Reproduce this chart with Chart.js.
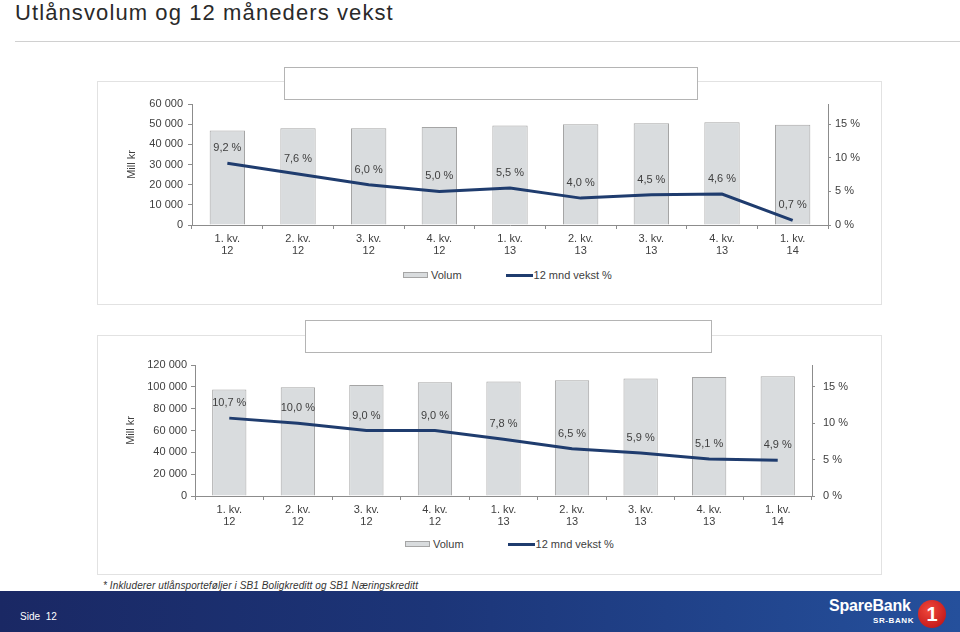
<!DOCTYPE html>
<html>
<head>
<meta charset="utf-8">
<script src="https://cdn.jsdelivr.net/npm/chart.js@4/dist/chart.umd.min.js"></script>
<style>
  body { margin: 0; width: 960px; height: 632px; position: relative; overflow: hidden; background: #fff;
         font-family: "Liberation Sans", Arial, sans-serif; color: #333; }
  .title { position: absolute; left: 15px; top: 0; font-size: 22px; letter-spacing: 1.1px; color: #2a2a2a; white-space: nowrap; }
  .rule { position: absolute; left: 15px; right: 0; top: 41px; height: 1px; background: #d0d0d0; }
  .panel { position: absolute; left: 97px; width: 783px; border: 1px solid #e2e2e2; background: #fff; }
  .tag { position: absolute; border: 1px solid #b4b4b4; background: #fff; }
  .wrap { position: absolute; left: 97px; }
  .legend { position: absolute; display: flex; align-items: center; font-size: 11px; color: #404040; white-space: nowrap; }
  .legend .box { width: 23px; height: 4px; border: 1px solid #a5a5a5; background: #d9dcde; margin-right: 3px; }
  .legend .line { width: 27px; height: 3px; background: #1f3c6e; margin-left: 44px; margin-right: 1px; }
  .note { position: absolute; left: 103px; top: 580px; font-size: 10px; font-style: italic; letter-spacing: 0.1px; color: #333; white-space: nowrap; }
  .footer { position: absolute; left: 0; top: 591px; width: 960px; height: 41px;
            background: linear-gradient(to right, #1a2864 0%, #1c3578 45%, #25509c 100%); }
  .side { position: absolute; left: 20px; top: 611px; font-size: 10px; color: #fff; word-spacing: 3px; }
  .brand { position: absolute; left: 829px; top: 597px; font-size: 16px; font-weight: bold; color: #fff; letter-spacing: -0.2px; }
  .brand2 { position: absolute; left: 873px; top: 616px; font-size: 8px; font-weight: bold; color: #fff; letter-spacing: 0.6px; }
  .one { position: absolute; left: 918px; top: 600px; width: 28px; height: 28px; border-radius: 50%;
         background: radial-gradient(circle at 40% 35%, #f0483a, #c81e1e 70%, #a01515);
         color: #fff; font-weight: bold; font-size: 20px; line-height: 28px; text-align: center; }
</style>
</head>
<body>
<div class="title">Utlånsvolum og 12 måneders vekst</div>
<div class="rule"></div>

<div class="panel" style="top:81px;height:222px"></div>
<div class="tag" style="left:284px;top:67px;width:412px;height:31px"></div>
<div class="wrap" style="top:90px"><canvas id="c1" width="781" height="168"></canvas></div>
<div class="legend" id="lg1" style="left:403px;top:268px;height:14px"></div>

<div class="panel" style="top:335px;height:238px"></div>
<div class="tag" style="left:305px;top:320px;width:405px;height:31px"></div>
<div class="wrap" style="top:350px"><canvas id="c2" width="781" height="179"></canvas></div>
<div class="legend" id="lg2" style="left:405px;top:537px;height:14px"></div>

<div class="note">* Inkluderer utlånsporteføljer i SB1 Boligkreditt og SB1 Næringskreditt</div>
<div class="footer"></div>
<div class="side">Side 12</div>
<div class="brand">SpareBank</div>
<div class="brand2">SR-BANK</div>
<div class="one">1</div>

<script>
const categories = [
  ["1. kv.", "12"], ["2. kv.", "12"], ["3. kv.", "12"], ["4. kv.", "12"],
  ["1. kv.", "13"], ["2. kv.", "13"], ["3. kv.", "13"], ["4. kv.", "13"],
  ["1. kv.", "14"]
];
const seriesNames = ["Volum", "12 mnd vekst %"];

// upper chart
const volumTop = [46900, 48000, 48000, 48600, 49400, 49900, 50400, 50900, 49700];
const vekstTop = [9.2, 7.6, 6.0, 5.0, 5.5, 4.0, 4.5, 4.6, 0.7];

// lower chart
const volumBottom = [97500, 99600, 101700, 104200, 105000, 106100, 107600, 109100, 109700];
const vekstBottom = [10.7, 10.0, 9.0, 9.0, 7.8, 6.5, 5.9, 5.1, 4.9];

const pctTicks = [0, 5, 10, 15];

const barFill = "#d9dcde";
const barEdge = "#a5a5a5";
const lineColor = "#1f3c6e";
const axisColor = "#8c8c8c";
const textColor = "#404040";
const fontFamily = '"Liberation Sans", Arial, sans-serif';

const fmtThousands = (v) => String(v).replace(/\B(?=(\d{3})+(?!\d))/g, " ");
const fmtPct = (v) => v.toFixed(1).replace(".", ",") + " %";

// growth labels above the line points
const pctLabels = {
  id: "pctLabels",
  afterDatasetsDraw(chart) {
    const ctx = chart.ctx;
    const meta = chart.getDatasetMeta(1);
    const data = chart.data.datasets[1].data;
    ctx.save();
    ctx.font = "11px " + fontFamily;
    ctx.fillStyle = textColor;
    ctx.textAlign = "center";
    ctx.textBaseline = "middle";
    meta.data.forEach((pt, i) => {
      ctx.fillText(fmtPct(data[i]), pt.x, pt.y - 15);
    });
    ctx.restore();
  }
};

const buildChart = (id, volum, vekst, cfg) => {
  return new Chart(document.getElementById(id), {
    type: "bar",
    data: {
      labels: categories,
      datasets: [
        {
          type: "bar",
          label: seriesNames[0],
          data: volum,
          yAxisID: "y",
          backgroundColor: barFill,
          borderColor: barEdge,
          borderWidth: 1,
          barPercentage: 0.5,
          categoryPercentage: 1,
          order: 2
        },
        {
          type: "line",
          label: seriesNames[1],
          data: vekst,
          yAxisID: "y1",
          borderColor: lineColor,
          borderWidth: 3,
          pointRadius: 0,
          tension: 0,
          order: 1
        }
      ]
    },
    options: {
      responsive: false,
      animation: false,
      layout: { padding: { top: cfg.padTop, left: 0, right: 0, bottom: 0 } },
      plugins: { legend: { display: false }, tooltip: { enabled: false } },
      scales: {
        x: {
          grid: { offset: true, drawOnChartArea: false, tickLength: 4, color: axisColor },
          border: { color: axisColor },
          ticks: { color: textColor, font: { family: fontFamily, size: 11, lineHeight: 1.1 }, padding: 4, maxRotation: 0, autoSkip: false },
          afterFit: (s) => { s.height = cfg.xHeight; }
        },
        y: {
          position: "left",
          min: 0,
          max: cfg.yMax,
          grid: { drawOnChartArea: false, tickLength: 4, color: axisColor },
          border: { color: axisColor },
          ticks: { stepSize: cfg.yStep, color: textColor, font: { family: fontFamily, size: 11 }, padding: cfg.leftPad, callback: (v) => fmtThousands(v) },
          title: { display: true, text: "Mill kr", color: textColor, font: { family: fontFamily, size: 11, lineHeight: 1.2 }, padding: { top: cfg.titlePad, bottom: 0 } },
          afterFit: (s) => { s.width = cfg.leftWidth; }
        },
        y1: {
          position: "right",
          min: 0,
          max: 18,
          grid: { drawOnChartArea: false, tickLength: 3, color: axisColor },
          border: { color: axisColor },
          ticks: { color: textColor, font: { family: fontFamily, size: 11 }, padding: cfg.rightPad, callback: (v) => v + " %" },
          afterBuildTicks: (s) => { s.ticks = pctTicks.map((v) => ({ value: v })); },
          afterFit: (s) => { s.width = cfg.rightWidth; }
        }
      }
    },
    plugins: [pctLabels]
  });
};

const buildLegend = (id) => {
  const el = document.getElementById(id);
  el.innerHTML =
    '<span class="box"></span><span>' + seriesNames[0] + '</span>' +
    '<span class="line"></span><span>' + seriesNames[1] + '</span>';
};

buildChart("c1", volumTop, vekstTop, {
  padTop: 14, xHeight: 33, leftWidth: 95, rightWidth: 50,
  leftPad: 5, rightPad: 4, titlePad: 28, yMax: 60000, yStep: 10000
});
buildChart("c2", volumBottom, vekstBottom, {
  padTop: 15, xHeight: 33, leftWidth: 98, rightWidth: 66,
  leftPad: 4, rightPad: 8, titlePad: 27, yMax: 120000, yStep: 20000
});
buildLegend("lg1");
buildLegend("lg2");
</script>
</body>
</html>
